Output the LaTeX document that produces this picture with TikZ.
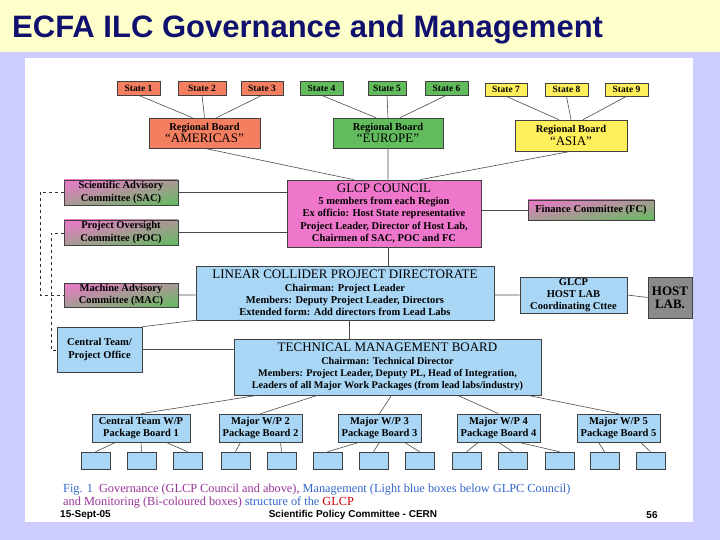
\documentclass[tikz,border=0pt]{standalone}
\usepackage{fontspec}
\usetikzlibrary{shadings}
\setmainfont{Liberation Serif}
\newfontfamily\sanf{Liberation Sans}
\definecolor{salm}{HTML}{F47F60}
\definecolor{grn}{HTML}{62BC5E}
\definecolor{yel}{HTML}{FFEF5A}
\definecolor{pnk}{HTML}{EE77CC}
\definecolor{lb}{HTML}{A8D6F4}
\definecolor{gry}{HTML}{8A8A8A}
\definecolor{lav}{HTML}{CCCCFF}
\definecolor{band}{HTML}{FFFFCC}
\definecolor{navy}{HTML}{10106E}
\definecolor{capb}{HTML}{3366CC}
\definecolor{capp}{HTML}{993399}
\newcommand\bx[7]{\node[#2,minimum width={(#5-#3)*1pt},minimum height={(#6-#4)*1pt}] (#1) at ({(#3+#5)/2},{(#4+#6)/2}) {#7};}
\newcommand\tl{\mdseries\fontsize{13}{14}\selectfont}
\tikzset{
 bb/.style={draw=black!75,line width=0.6pt,inner sep=0pt,align=center,font=\bfseries\fontsize{10.5}{12.3}\selectfont},
 st/.style={bb,font=\bfseries\fontsize{9.5}{10}\selectfont},
 bi/.style={bb,upper left=pnk,upper right=pnk!50!grn,lower left=pnk!50!grn,lower right=grn},
 ln/.style={black!70,line width=0.6pt},
 dl/.style={black!80,dashed,line width=0.5pt},
}
\begin{document}
\begin{tikzpicture}[x=1pt,y=-1pt]
\useasboundingbox (0,0) rectangle (720,540);
\fill[lav] (0,0) rectangle (720,540);
\fill[band] (0,0) rectangle (720,52);
\fill[white] (25,58) rectangle (693,522);
\node[anchor=west,font=\sanf\bfseries\fontsize{31}{34}\selectfont,text=navy,inner sep=0pt] (title) at (12,30) {ECFA ILC Governance and Management};
% states
\bx{s1}{st,fill=salm}{117}{81}{160}{95}{State 1}
\bx{s2}{st,fill=salm}{178}{81}{226}{95}{State 2}
\bx{s3}{st,fill=salm}{241}{81}{283}{95}{State 3}
\bx{s4}{st,fill=grn}{300}{81}{343}{95}{State 4}
\bx{s5}{st,fill=grn}{368}{81}{406}{95}{State 5}
\bx{s6}{st,fill=grn}{425}{81}{468}{95}{State 6}
\bx{s7}{st,fill=yel}{485}{83}{527}{96}{State 7}
\bx{s8}{st,fill=yel}{545}{83}{588}{96}{State 8}
\bx{s9}{st,fill=yel}{605}{83}{648}{96}{State 9}
\bx{ram}{bb,fill=salm}{149}{118}{260}{148}{Regional Board\\{\tl ``AMERICAS''}}
\bx{reu}{bb,fill=grn}{333}{118}{443}{148}{Regional Board\\{\tl ``EUROPE''}}
\bx{ras}{bb,fill=yel}{515}{120}{627}{151}{Regional Board\\{\tl ``ASIA''}}
\bx{cou}{bb,fill=pnk}{287}{180}{481}{247}{{\tl GLCP COUNCIL}\\5 members from each Region\\Ex officio: Host State representative\\Project Leader, Director of Host Lab,\\Chairmen of SAC, POC and FC}
\bx{sac}{bi}{64}{180}{178}{205}{Scientific Advisory\\Committee (SAC)}
\bx{poc}{bi}{64}{220}{178}{245}{Project Oversight\\Committee (POC)}
\bx{fc}{bi}{528}{200}{654}{220}{Finance Committee (FC)}
\bx{lcp}{bb,fill=lb}{196}{266}{494}{320}{{\tl LINEAR COLLIDER PROJECT DIRECTORATE}\\Chairman: Project Leader\\Members: Deputy Project Leader, Directors\\Extended form: Add directors from Lead Labs}
\bx{mac}{bi}{64}{283}{178}{307}{Machine Advisory\\Committee (MAC)}
\bx{hlc}{bb,fill=lb}{520}{277}{627}{313}{GLCP\\HOST LAB\\Coordinating Cttee}
\bx{hl}{bb,fill=gry,font=\bfseries\fontsize{13}{13}\selectfont}{648}{277}{692}{318}{HOST\\LAB.}
\bx{ct}{bb,fill=lb}{57}{327}{142}{372}{Central Team/\\Project Office}
\bx{tmb}{bb,fill=lb,font=\bfseries\fontsize{10.2}{12.3}\selectfont}{234}{339}{541}{395}{{\tl TECHNICAL MANAGEMENT BOARD}\\Chairman: Technical Director\\Members: Project Leader, Deputy PL, Head of Integration,\\Leaders of all Major Work Packages (from lead labs/industry)}
\bx{w1}{bb,fill=lb}{92}{414}{190}{442}{Central Team W/P\\Package Board 1}
\bx{w2}{bb,fill=lb}{219}{414}{302}{442}{Major W/P 2\\Package Board 2}
\bx{w3}{bb,fill=lb}{338}{414}{421}{442}{Major W/P 3\\Package Board 3}
\bx{w4}{bb,fill=lb}{457}{414}{540}{442}{Major W/P 4\\Package Board 4}
\bx{w5}{bb,fill=lb}{577}{414}{660}{442}{Major W/P 5\\Package Board 5}
\foreach \i/\x in {1/81,2/127,3/173,4/221,5/267,6/313,7/359,8/405,9/452,10/498,11/545,12/590,13/636}
  {\node[bb,fill=lb,minimum width=29pt,minimum height=17pt] (b\i) at (\x+14.5,460.5) {};}
% connectors
\draw[ln] (s1.south) -- ([xshift=-12pt]ram.north) (s2.south) -- (ram.north) (s3.south) -- ([xshift=12pt]ram.north);
\draw[ln] (s4.south) -- ([xshift=-12pt]reu.north) (s5.south) -- (reu.north) (s6.south) -- ([xshift=12pt]reu.north);
\draw[ln] (s7.south) -- ([xshift=-12pt]ras.north) (s8.south) -- (ras.north) (s9.south) -- ([xshift=12pt]ras.north);
\draw[ln] (ram.south) -- ([xshift=-30pt]cou.north) (reu.south) -- ([xshift=4pt]cou.north) (ras.south) -- ([xshift=36pt]cou.north);
\draw[ln] (sac.east) -- (sac.east -| cou.west) (poc.east) -- (poc.east -| cou.west) (fc.west) -- (fc.west -| cou.east);
\draw[ln] ([xshift=4pt]cou.south) -- ([xshift=4pt]cou.south |- lcp.north);
\draw[ln] (mac.east) -- (mac.east -| lcp.west) (hlc.west) -- (hlc.west -| lcp.east) (hlc.east) -- (hl.west);
\draw[ln] ([xshift=4pt]lcp.south) -- ([xshift=4pt]lcp.south |- tmb.north);
\draw[ln] (ct.north east) -- (lcp.south west) (ct.east) -- (ct.east -| tmb.west);
\draw[ln] ([xshift=-130pt]tmb.south) -- (w1.north) ([xshift=-70pt]tmb.south) -- (w2.north) ([xshift=4pt]tmb.south) -- (w3.north) ([xshift=70pt]tmb.south) -- (w4.north) ([xshift=140pt]tmb.south) -- (w5.north);
\draw[ln] ([xshift=-25pt]w1.south) -- (b1.north) (w1.south) -- (b2.north) ([xshift=25pt]w1.south) -- (b3.north);
\draw[ln] ([xshift=-20pt]w2.south) -- (b4.north) ([xshift=20pt]w2.south) -- (b5.north);
\draw[ln] ([xshift=-20pt]w3.south) -- (b6.north) (w3.south) -- (b7.north) ([xshift=25pt]w3.south) -- (b8.north);
\draw[ln] ([xshift=-20pt]w4.south) -- (b9.north) (w4.south) -- (b10.north) ([xshift=20pt]w4.south) -- (b11.north);
\draw[ln] ([xshift=-20pt]w5.south) -- (b12.north) ([xshift=22pt]w5.south) -- (b13.north);
\coordinate (d1a) at (40,192); \coordinate (d1b) at (40,295);
\coordinate (d2a) at (51,233); \coordinate (d2b) at (51,350);
\draw[dl] (sac.west |- d1a) -- (d1a) -- (d1b) -- (mac.west |- d1b);
\draw[dl] (poc.west |- d2a) -- (d2a) -- (d2b) -- (ct.west |- d2b);
% caption
\node[anchor=west,font=\fontsize{12.3}{13.5}\selectfont,align=left,inner sep=0pt] (cap) at (63,496) {\textcolor{capb}{Fig. 1\ \ }\textcolor{capp}{Governance (GLCP Council and above),} \textcolor{capb}{Management (Light blue boxes below GLPC Council)}\\\textcolor{capp}{and Monitoring (Bi-coloured boxes)} \textcolor{capb}{structure of the} \textcolor{red!80!black}{GLCP}};
\node[anchor=west,font=\sanf\bfseries\fontsize{10}{10}\selectfont,inner sep=0pt] (f1) at (60,515) {15-Sept-05};
\node[font=\sanf\bfseries\fontsize{10}{10}\selectfont,inner sep=0pt] (f2) at (353,515) {Scientific Policy Committee - CERN};
\node[font=\sanf\bfseries\fontsize{10}{10}\selectfont,inner sep=0pt] (f3) at (652,515) {56};
\end{tikzpicture}
\end{document}
